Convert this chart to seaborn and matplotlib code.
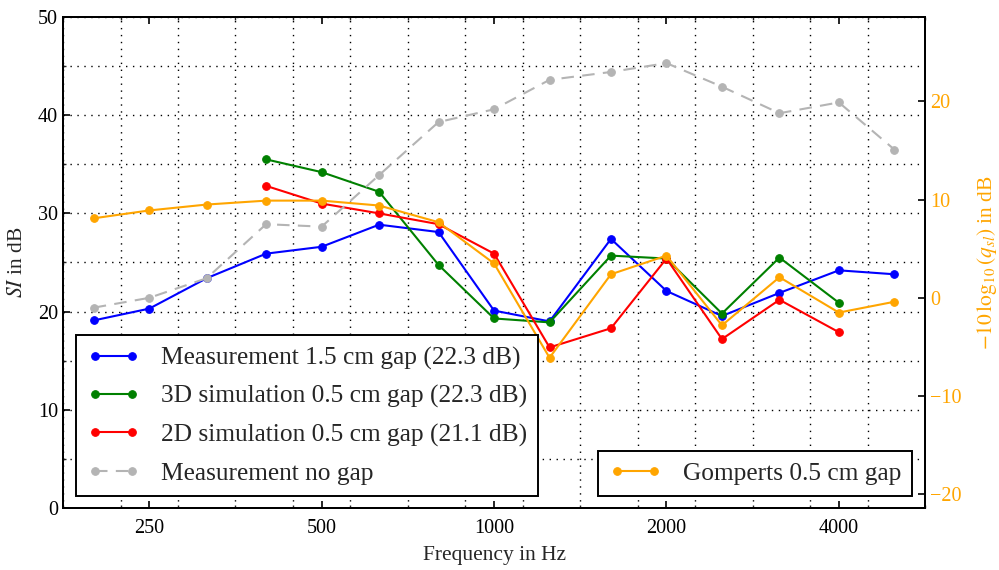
import matplotlib
matplotlib.use("Agg")
import matplotlib.pyplot as plt
from matplotlib.ticker import FixedLocator, FixedFormatter, NullFormatter
import pandas as pd
import seaborn as sns

# Third-octave band centre frequencies (Hz)
freq = [200, 250, 315, 400, 500, 630, 800, 1000, 1250, 1600, 2000, 2500, 3150, 4000, 5000]

# Speech intelligibility index SI in dB (left axis)
meas_gap = [19.1, 20.3, 23.4, 25.9, 26.6, 28.85, 28.1, 20.1, 19.0, 27.4, 22.1, 19.55, 21.9, 24.2, 23.8]
sim_freq = [400, 500, 630, 800, 1000, 1250, 1600, 2000, 2500, 3150, 4000]
sim3d = [35.5, 34.2, 32.2, 24.75, 19.3, 18.9, 25.7, 25.4, 19.8, 25.5, 20.9]
sim2d = [32.8, 31.0, 30.0, 28.9, 25.9, 16.35, 18.3, 25.4, 17.2, 21.2, 17.9]
meas_nogap = [20.4, 21.4, 23.4, 28.9, 28.65, 33.9, 39.3, 40.6, 43.6, 44.4, 45.3, 42.9, 40.2, 41.3, 36.5]

# Gomperts model, -10 log10(q_sl) in dB (right axis)
gomperts = [8.1, 8.9, 9.5, 9.9, 9.9, 9.4, 7.7, 3.5, -6.1, 2.4, 4.3, -2.8, 2.1, -1.5, -0.4]

labels = [
    "Measurement 1.5 cm gap (22.3 dB)",
    "3D simulation 0.5 cm gap (22.3 dB)",
    "2D simulation 0.5 cm gap (21.1 dB)",
    "Measurement no gap",
]
gomperts_label = "Gomperts 0.5 cm gap"
xtick_values = [250, 500, 1000, 2000, 4000]

sns.set_style("ticks")
plt.rcParams["font.family"] = ["Liberation Serif", "DejaVu Serif"]
plt.rcParams["mathtext.fontset"] = "stix"

ORANGE = "#ffa500"
GRAY = "#b4b4b4"

fig = plt.figure(figsize=(9.99, 5.70), dpi=100)
ax = fig.add_axes([0.0631, 0.1088, 0.8629, 0.8614])
ax2 = ax.twinx()

ax.set_xscale("log", base=2)

line_kw = dict(marker="o", markersize=5.5, linewidth=1.5)

series = [
    (freq, meas_gap, "#0000ff", "-"),
    (sim_freq, sim3d, "#008000", "-"),
    (sim_freq, sim2d, "#ff0000", "-"),
    (freq, meas_nogap, GRAY, "--"),
]
handles = []
for (xs, ys, col, ls), lab in zip(series, labels):
    df = pd.DataFrame({"f": xs, "v": ys})
    sns.lineplot(data=df, x="f", y="v", ax=ax, color=col, linestyle=ls,
                 markeredgecolor=col, label=lab, legend=False, **line_kw)
    h = ax.lines[-1]
    if ls == "--":
        h.set_dashes((6, 4))
    handles.append(h)

dfg = pd.DataFrame({"f": freq, "v": gomperts})
sns.lineplot(data=dfg, x="f", y="v", ax=ax2, color=ORANGE,
             markeredgecolor=ORANGE, legend=False, **line_kw)
hg = ax2.lines[-1]

# Axis ranges
ax.set_xlim(1000 * 2 ** -2.5, 1000 * 2 ** 2.5)
ax.set_ylim(0, 50)
ax2.set_ylim(-21.4, 28.6)

# x ticks: labelled octaves, grid at third-octave band edges
ax.xaxis.set_major_locator(FixedLocator(xtick_values))
ax.xaxis.set_major_formatter(FixedFormatter([str(v) for v in xtick_values]))
edges = [1000 * 2 ** ((2 * k + 1) / 6) for k in range(-8, 8)]
ax.xaxis.set_minor_locator(FixedLocator(edges))
ax.xaxis.set_minor_formatter(NullFormatter())

ax.set_yticks(range(0, 51, 10))
ax.yaxis.set_minor_locator(FixedLocator(range(5, 50, 10)))
ax2.set_yticks([-20, -10, 0, 10, 20])
ax2.yaxis.set_minor_locator(FixedLocator([]))

grid_kw = dict(color="black", linestyle=(0, (1, 4)), linewidth=1.0)
ax.grid(True, axis="x", which="minor", **grid_kw)
ax.grid(True, axis="y", which="both", **grid_kw)
ax.grid(False, axis="x", which="major")

ax.tick_params(axis="both", which="major", direction="in", length=5, width=1.2,
               labelsize=14.5, top=True, right=False, colors="black")
ax.tick_params(axis="both", which="minor", direction="in", length=2.5, width=1.0,
               top=True, right=False)
ax.tick_params(axis="x", which="major", pad=8)
ax2.tick_params(axis="y", which="major", direction="in", length=5, width=1.2,
                labelsize=14.5, colors="black", labelcolor=ORANGE)

for a in (ax, ax2):
    for s in a.spines.values():
        s.set_linewidth(1.4)
        s.set_color("black")

ax.set_xlabel("Frequency in Hz", fontsize=15.5, labelpad=6)
ax.set_ylabel(r"$SI$ in dB", fontsize=15.5, labelpad=8)
ax2.set_ylabel(r"$-10\,\log_{10}\left(q_{sl}\right)$ in dB", fontsize=15.5,
               color=ORANGE, labelpad=10)

leg_kw = dict(fontsize=18.3, frameon=True, fancybox=False, framealpha=1,
              edgecolor="black", numpoints=2, handlelength=2.06,
              handletextpad=0.84, borderaxespad=0, borderpad=0.44,
              labelspacing=0.6)
leg1 = ax2.legend(handles, labels, loc="lower left",
                  bbox_to_anchor=(0.0151, 0.0244), **leg_kw)
leg1.get_frame().set_linewidth(1.4)
ax2.add_artist(leg1)
leg2 = ax2.legend([hg], [gomperts_label], loc="lower right",
                  bbox_to_anchor=(0.985, 0.0244), **leg_kw)
leg2.get_frame().set_linewidth(1.4)

fig.savefig("out.png", dpi=100)
